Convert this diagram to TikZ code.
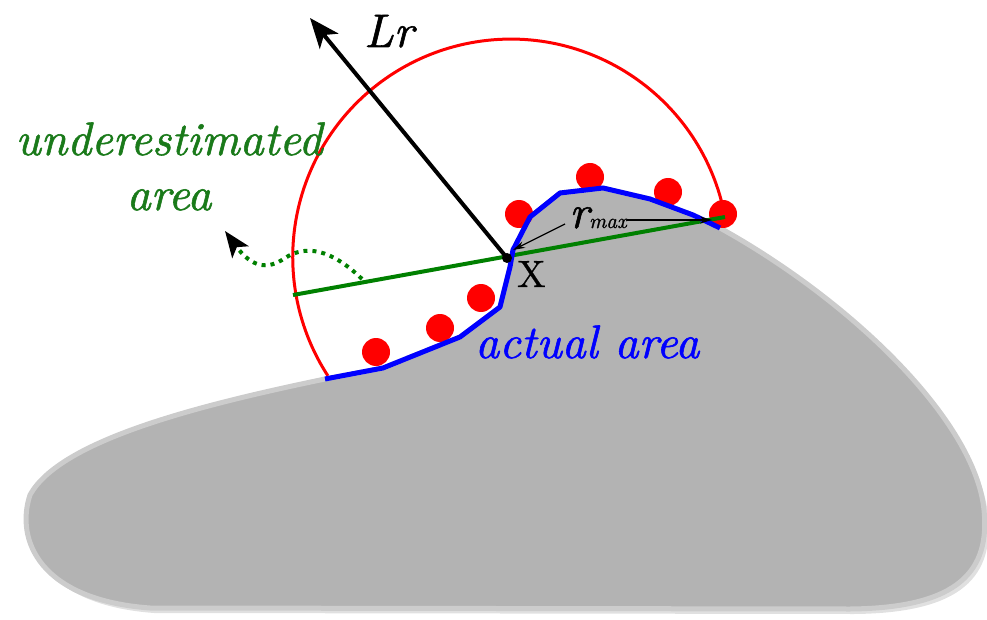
\documentclass[tikz,border=0pt]{standalone}
\usepackage{fontspec}
\setmainfont{lmroman10-regular}[Extension=.otf, ItalicFont=lmroman10-italic, BoldFont=lmroman10-bold, BoldItalicFont=lmroman10-bolditalic, ItalicFeatures={FakeBold=1.2}, UprightFeatures={FakeBold=0.6}]
\usetikzlibrary{arrows.meta}
\definecolor{gfill}{HTML}{B3B3B3}
\definecolor{gedge}{HTML}{CCCCCC}
\definecolor{lgreen}{HTML}{008000}
\definecolor{tgreen}{HTML}{1A7A1A}
\definecolor{pblue}{HTML}{0000FF}
\definecolor{pred}{HTML}{FF0000}
\tikzset{
  bigit/.style={font=\itshape\fontsize{47}{52}\selectfont, inner sep=0pt},
  reddot/.style={fill=pred},
  thinarrow/.style={line width=1.3pt, -{Stealth[length=12pt,width=7pt]}},
}
\begin{document}
\begin{tikzpicture}[x=1pt,y=-1pt]
\useasboundingbox (0,0) rectangle (987,620);
% named points
\coordinate (X) at (507,258);
\coordinate (Ltip) at (310,18);
\coordinate (Gl) at (293,295);
\coordinate (Gr) at (725,217);
\coordinate (Ds) at (362,279);
\coordinate (Dt) at (225,231);
\coordinate (Ra) at (565,224);
\coordinate (Rb) at (627,220);
\coordinate (Rtip) at (712,220);
\coordinate (Xtip) at (513,250);
% shape shadow
\fill[black, opacity=0.12, shift={(4pt,-5pt)}]
  (325,379) -- (383,368) -- (460,337) -- (500,307) -- (510,267) -- (513,250)
  -- (530,217) -- (560,193) -- (603,188) -- (650,199) -- (693,215) -- (720,228)
  .. controls (850,300) and (975,420) .. (984,510)
  .. controls (990,570) and (960,608) .. (850,609)
  -- (150,608)
  .. controls (40,600) and (15,540) .. (30,495)
  .. controls (60,440) and (200,405) .. (325,379) -- cycle;
% gray shape
\filldraw[fill=gfill, draw=gedge, line width=5pt, line join=round]
  (325,379) -- (383,368) -- (460,337) -- (500,307) -- (510,267) -- (513,250)
  -- (530,217) -- (560,193) -- (603,188) -- (650,199) -- (693,215) -- (720,228)
  .. controls (850,300) and (975,420) .. (984,510)
  .. controls (990,570) and (960,608) .. (850,609)
  -- (150,608)
  .. controls (40,600) and (15,540) .. (30,495)
  .. controls (60,440) and (200,405) .. (325,379) -- cycle;
% red dots
\foreach \p in {(376,352),(440,328),(481,298),(519,214),(590,177),(668,192),(723,214)}
  \fill[reddot] \p circle[radius=14pt];
% red arc
\draw[pred, line width=3pt] (Gr) arc[start angle=10.6, end angle=213, radius=218pt];
% green chord
\draw[lgreen, line width=4pt] (Gl) -- (Gr);
% Lr arrow
\draw[line width=4pt, -{Stealth[length=30pt,width=24pt,inset=8pt]}] (X) -- (Ltip);
% dotted arrow
\draw[lgreen, line width=4pt, dash pattern=on 4pt off 5pt,
  -{Stealth[length=26pt,width=20pt,inset=6pt,color=black]}]
  (Ds) .. controls (330,248) and (305,245) .. (285,258)
  .. controls (268,270) and (252,268) .. (Dt);
% blue actual boundary
\draw[pblue, line width=5pt, line join=round]
  (325,379) -- (383,368) -- (460,337) -- (500,307) -- (510,267) -- (513,250)
  -- (530,217) -- (560,193) -- (603,188) -- (650,199) -- (693,215) -- (720,228);
% point X
\fill (X) circle[radius=5pt];
% r_max arrows
\draw[thinarrow] (Ra) -- (Xtip);
\draw[thinarrow] (Rb) -- (Rtip);
% labels
\node[bigit, anchor=base west] (lr) at (364,47) {Lr};
\node[font=\fontsize{38}{38}\selectfont, inner sep=0pt, anchor=base west] (xl) at (517,287) {X};
\node[inner sep=0pt, anchor=base west] (rm) at (569,228)
  {{\itshape\fontsize{47}{47}\selectfont r}{\itshape\fontsize{21}{21}\selectfont max}};
\node[bigit, tgreen, anchor=base] (u1) at (169,155) {underestimated};
\node[bigit, tgreen, anchor=base] (u2) at (169,210) {area};
\node[bigit, pblue, anchor=base west] (aa) at (475,358) {actual area};
\end{tikzpicture}
\end{document}
